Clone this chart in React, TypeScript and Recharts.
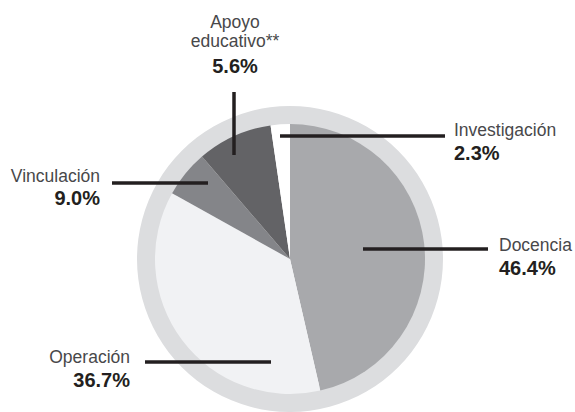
import React from 'react';
import { PieChart, Pie, Cell } from 'recharts';

// slices clockwise from 12 o'clock
const categories = ['Docencia', 'Operación', 'Vinculación', 'Apoyo educativo**', 'Investigación'];
// slice sizes as drawn in the source graphic
const shares = [46.4, 36.7, 5.6, 9.0, 2.3];
// percentages as printed on the labels
const labelValues = ['46.4%', '36.7%', '9.0%', '5.6%', '2.3%'];

const colors = ['#a8a9ac', '#f1f2f4', '#848589', '#636366', '#ffffff'];

const data = categories.map((name, i) => ({ name, value: shares[i], label: labelValues[i] }));
const ring = [{ name: 'ring', value: 100 }];

const FONT = '"Liberation Sans", Arial, sans-serif';
const INK = '#231f20';

// leader line + text placement, relative to the pie centre
type Note = {
  line: [number, number, number, number];
  x: number;
  y: number[];
  anchor: 'start' | 'middle' | 'end';
};
const notes: Note[] = [
  { line: [73, -10, 198, -10], x: 209, y: [-8, 16], anchor: 'start' },
  { line: [-145, 103, -19, 103], x: -160, y: [104, 128], anchor: 'end' },
  { line: [-178, -76, -82, -76], x: -190, y: [-77, -54], anchor: 'end' },
  { line: [-56, -167, -56, -104], x: -55, y: [-231, -212, -186], anchor: 'middle' },
  { line: [-10, -123, 155, -123], x: 164, y: [-123, -99], anchor: 'start' },
];

const renderLabel = (props: any) => {
  const { cx, cy, index, name } = props;
  const n = notes[index];
  const nameLines = index === 3 ? ['Apoyo', 'educativo**'] : [name];
  const [x1, y1, x2, y2] = n.line;
  return (
    <g key={`note-${index}`}>
      <line x1={cx + x1} y1={cy + y1} x2={cx + x2} y2={cy + y2} stroke={INK} strokeWidth={3.5} />
      {nameLines.map((t, k) => (
        <text key={k} x={cx + n.x} y={cy + n.y[k]} textAnchor={n.anchor} fontFamily={FONT} fontSize={17.5} fill="#48484a">
          {t}
        </text>
      ))}
      <text x={cx + n.x} y={cy + n.y[nameLines.length]} textAnchor={n.anchor} fontFamily={FONT} fontSize={20} fontWeight="bold" fill={INK}>
        {data[index].label}
      </text>
    </g>
  );
};

export default function App() {
  return (
    <div style={{ position: 'absolute', left: 0, top: 0, width: 575, height: 412, background: '#fff' }}>
      <PieChart width={575} height={412} margin={{ top: 0, right: 0, bottom: 0, left: 0 }}>
        <Pie
          data={ring}
          dataKey="value"
          cx={290}
          cy={259}
          innerRadius={130}
          outerRadius={153}
          fill="#dcdddf"
          stroke="none"
          isAnimationActive={false}
        />
        <Pie
          data={data}
          dataKey="value"
          cx={290}
          cy={259}
          outerRadius={135}
          startAngle={90}
          endAngle={-270}
          stroke="none"
          label={renderLabel}
          labelLine={false}
          isAnimationActive={false}
        >
          {data.map((d, i) => (
            <Cell key={d.name} fill={colors[i]} />
          ))}
        </Pie>
      </PieChart>
    </div>
  );
}
